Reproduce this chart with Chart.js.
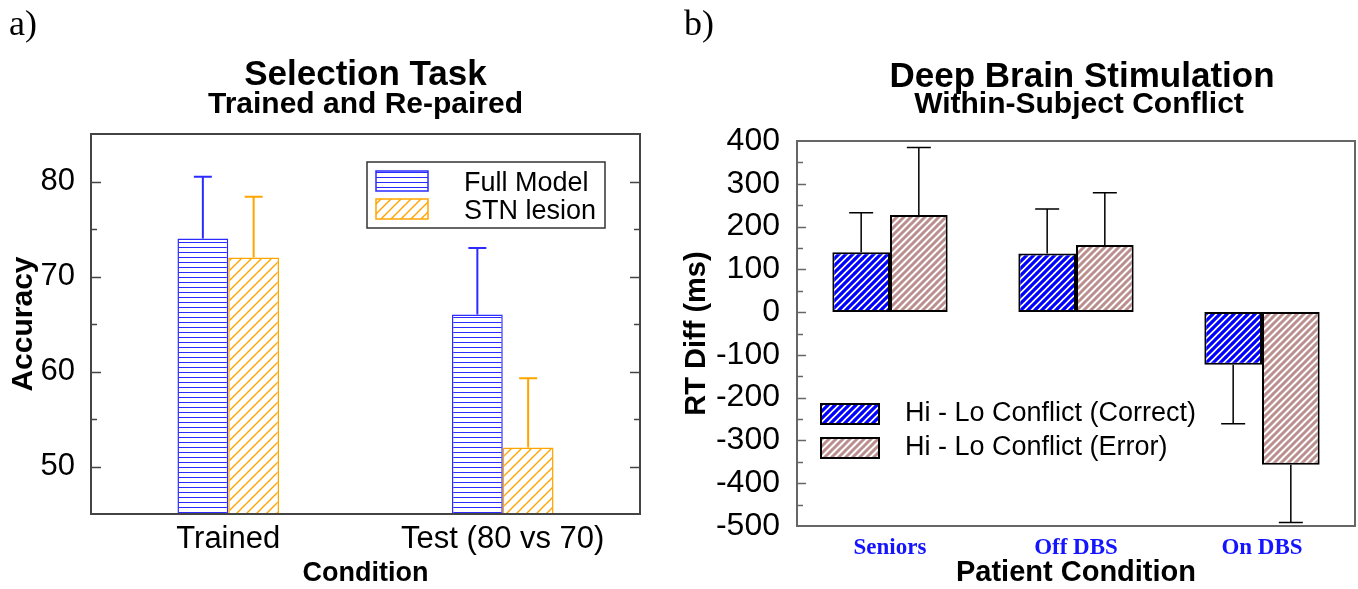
<!DOCTYPE html>
<html>
<head>
<meta charset="utf-8">
<script src="https://cdn.jsdelivr.net/npm/chart.js@4.4.1/dist/chart.umd.min.js"></script>
<style>
  html, body { margin: 0; padding: 0; background: #fff; }
  #wrapA { position: absolute; left: 0; top: 0; width: 680px; height: 589px; }
  #wrapB { position: absolute; left: 680px; top: 0; width: 678px; height: 589px; }
</style>
</head>
<body>
<div id="wrapA"><canvas id="chartA"></canvas></div>
<div id="wrapB"><canvas id="chartB"></canvas></div>
<script>
// panel a) selection task
const condA = ['Trained', 'Test (80 vs 70)'];
const fullModel = [74, 66];
const fullModelErr = [6.5, 7];
const stnLesion = [72, 52];
const stnLesionErr = [6.4, 7.3];
const ticksA = [50, 60, 70, 80];

// panel b) deep brain stimulation
const condB = ['Seniors', 'Off DBS', 'On DBS'];
const correctDiff = [140, 137, -123];
const correctErr = [92, 104, 138];
const errorDiff = [227, 157, -357];
const errorErr = [158, 122, 135];
const ticksB = [400, 300, 200, 100, 0, -100, -200, -300, -400, -500];

const SANS = "'Liberation Sans', Arial, sans-serif";
const SERIF = "'Liberation Serif', 'Times New Roman', serif";

function hatch(kind, color, size, lw) {
  const c = document.createElement('canvas');
  c.width = size; c.height = size;
  const g = c.getContext('2d');
  g.fillStyle = '#fff';
  g.fillRect(0, 0, size, size);
  g.strokeStyle = color;
  g.lineWidth = lw;
  g.beginPath();
  if (kind === 'h') {
    g.moveTo(0, size / 2); g.lineTo(size, size / 2);
  } else {
    for (const k of [0, size, 2 * size]) {
      g.moveTo(k + 1, -1); g.lineTo(k - size - 1, size + 1);
    }
  }
  g.stroke();
  return g.createPattern(c, 'repeat');
}

const patFull = hatch('h', '#2b2bff', 5, 1);
const patStn = hatch('d', '#ffa500', 10, 1.4);
const patCorrect = hatch('d', '#0000ff', 7, 3.2);
const patError = hatch('d', '#bc8f8f', 7, 3);

// frame, inward ticks, error bars, titles and legend
const panelPlugin = {
  id: 'panel',
  afterDatasetsDraw(chart, args, o) {
    const ctx = chart.ctx, y = chart.scales.y;
    o.errors.forEach((errs, di) => {
      const meta = chart.getDatasetMeta(di);
      const vals = chart.data.datasets[di].data;
      ctx.save();
      ctx.strokeStyle = o.errColors[di];
      ctx.lineWidth = o.errWidth;
      meta.data.forEach((bar, i) => {
        const v = vals[i];
        const end = v >= 0 ? v + errs[i] : v - errs[i];
        const y0 = y.getPixelForValue(v), y1 = y.getPixelForValue(end);
        ctx.beginPath();
        ctx.moveTo(bar.x, y0); ctx.lineTo(bar.x, y1);
        ctx.moveTo(bar.x - o.cap / 2, y1); ctx.lineTo(bar.x + o.cap / 2, y1);
        ctx.stroke();
      });
      ctx.restore();
    });
  },
  afterDraw(chart, args, o) {
    const ctx = chart.ctx, a = chart.chartArea, y = chart.scales.y;
    ctx.save();
    // tick marks, pointing inward
    ctx.strokeStyle = o.frameColor;
    ctx.lineWidth = 1.5;
    for (let v = y.min + o.minorStep; v < y.max; v += o.minorStep) {
      const py = Math.round(y.getPixelForValue(v)) + 0.5;
      const len = (v % o.majorStep === 0) ? o.majorLen : o.minorLen;
      ctx.beginPath();
      ctx.moveTo(a.left, py); ctx.lineTo(a.left + len, py);
      if (o.rightTicks) { ctx.moveTo(a.right, py); ctx.lineTo(a.right - len, py); }
      ctx.stroke();
    }
    ctx.lineWidth = o.frameWidth;
    ctx.strokeRect(a.left, a.top, a.right - a.left, a.bottom - a.top);

    // titles
    ctx.fillStyle = '#000';
    ctx.textBaseline = 'alphabetic';
    const cx = (a.left + a.right) / 2;
    o.texts.forEach(t => {
      ctx.font = t.font;
      ctx.textAlign = t.align || 'center';
      ctx.fillText(t.text, t.x !== undefined ? t.x : cx + (t.dx || 0), t.y);
    });

    // legend
    const L = o.legend;
    if (L.box) {
      ctx.strokeStyle = '#333';
      ctx.lineWidth = 1.5;
      ctx.strokeRect(L.box.x, L.box.y, L.box.w, L.box.h);
    }
    chart.data.datasets.forEach((ds, i) => {
      const sy = L.ys[i];
      ctx.fillStyle = ds.backgroundColor;
      ctx.fillRect(L.x, sy, L.w, L.h);
      ctx.strokeStyle = ds.borderColor;
      ctx.lineWidth = L.borderWidth;
      ctx.strokeRect(L.x, sy, L.w, L.h);
      ctx.fillStyle = '#000';
      ctx.font = L.font;
      ctx.textAlign = 'left';
      ctx.fillText(ds.label, L.textX, L.baselines[i]);
    });
    ctx.restore();
  }
};

new Chart(document.getElementById('chartA'), {
  type: 'bar',
  data: {
    labels: condA,
    datasets: [
      { label: 'Full Model', data: fullModel, backgroundColor: patFull, borderColor: '#2b2bff', borderWidth: 1.5, borderSkipped: false },
      { label: 'STN lesion', data: stnLesion, backgroundColor: patStn, borderColor: '#ffa500', borderWidth: 1.5, borderSkipped: false }
    ]
  },
  options: {
    responsive: true,
    maintainAspectRatio: false,
    animation: false,
    layout: { padding: { left: 0, right: 40, top: 134, bottom: 0 } },
    datasets: { bar: { categoryPercentage: 0.37, barPercentage: 1 } },
    scales: {
      x: {
        grid: { display: false },
        border: { display: false },
        ticks: { color: '#000', font: { family: SANS, size: 31, lineHeight: 1 }, padding: 2, maxRotation: 0 },
        title: { display: true, text: 'Condition', color: '#000', font: { family: SANS, size: 27, weight: 'bold', lineHeight: 1 }, padding: { top: 0, bottom: 2 } },
        afterFit: s => { s.height = 75; }
      },
      y: {
        min: 45,
        max: 85,
        afterBuildTicks: s => { s.ticks = ticksA.map(v => ({ value: v })); },
        grid: { display: false },
        border: { display: false },
        ticks: { color: '#000', font: { family: SANS, size: 31 }, padding: 8 },
        title: { display: true, text: 'Accuracy', color: '#000', font: { family: SANS, size: 30, weight: 'bold', lineHeight: 1 }, padding: { top: 9, bottom: 0 } },
        afterFit: s => { s.width = 91; }
      }
    },
    plugins: {
      legend: { display: false },
      tooltip: { enabled: false },
      panel: {
        errors: [fullModelErr, stnLesionErr],
        errColors: ['#2b2bff', '#ffa500'],
        errWidth: 2,
        cap: 18,
        frameColor: '#444',
        frameWidth: 2,
        minorStep: 5,
        majorStep: 10,
        majorLen: 10,
        minorLen: 6,
        rightTicks: true,
        texts: [
          { text: 'Selection Task', font: 'bold 35px ' + SANS, y: 85 },
          { text: 'Trained and Re-paired', font: 'bold 30px ' + SANS, y: 113 },
          { text: 'a)', font: '36px ' + SERIF, x: 9, y: 35, align: 'left' }
        ],
        legend: {
          box: { x: 367, y: 162, w: 238, h: 66 },
          x: 376, w: 52, h: 20, ys: [171, 199],
          borderWidth: 1.5,
          textX: 464, baselines: [191, 219],
          font: '27px ' + SANS
        }
      }
    }
  },
  plugins: [panelPlugin]
});

new Chart(document.getElementById('chartB'), {
  type: 'bar',
  data: {
    labels: condB,
    datasets: [
      { label: 'Hi - Lo Conflict (Correct)', data: correctDiff, backgroundColor: patCorrect, borderColor: '#000', borderWidth: 2, borderSkipped: false },
      { label: 'Hi - Lo Conflict (Error)', data: errorDiff, backgroundColor: patError, borderColor: '#000', borderWidth: 2, borderSkipped: false }
    ]
  },
  options: {
    responsive: true,
    maintainAspectRatio: false,
    animation: false,
    layout: { padding: { left: 0, right: 3, top: 141, bottom: 0 } },
    datasets: { bar: { categoryPercentage: 0.62, barPercentage: 1 } },
    scales: {
      x: {
        grid: { display: false },
        border: { display: false },
        ticks: { color: '#1414ff', font: { family: SERIF, size: 23, weight: 'bold', lineHeight: 1 }, padding: 3, maxRotation: 0 },
        title: { display: true, text: 'Patient Condition', color: '#000', font: { family: SANS, size: 29, weight: 'bold', lineHeight: 1 }, padding: { top: 0, bottom: 2 } },
        afterFit: s => { s.height = 63; }
      },
      y: {
        min: -500,
        max: 400,
        afterBuildTicks: s => { s.ticks = ticksB.map(v => ({ value: v })); },
        grid: { display: false },
        border: { display: false },
        ticks: { color: '#000', font: { family: SANS, size: 32 }, padding: 9 },
        title: { display: true, text: 'RT Diff (ms)', color: '#000', font: { family: SANS, size: 29, weight: 'bold', lineHeight: 1 }, padding: { top: 2, bottom: 0 } },
        afterFit: s => { s.width = 117; }
      }
    },
    plugins: {
      legend: { display: false },
      tooltip: { enabled: false },
      panel: {
        errors: [correctErr, errorErr],
        errColors: ['#000', '#000'],
        errWidth: 1.5,
        cap: 24,
        frameColor: '#666',
        frameWidth: 2,
        minorStep: 50,
        majorStep: 100,
        majorLen: 9,
        minorLen: 6,
        rightTicks: false,
        texts: [
          { text: 'Deep Brain Stimulation', font: 'bold 35px ' + SANS, y: 87, dx: 6 },
          { text: 'Within-Subject Conflict', font: 'bold 30px ' + SANS, y: 113, dx: 3 },
          { text: 'b)', font: '36px ' + SERIF, x: 4, y: 35, align: 'left' }
        ],
        legend: {
          box: null,
          x: 141, w: 58, h: 20, ys: [404, 438],
          borderWidth: 2,
          textX: 225, baselines: [421, 455],
          font: '27px ' + SANS
        }
      }
    }
  },
  plugins: [panelPlugin]
});
</script>
</body>
</html>
